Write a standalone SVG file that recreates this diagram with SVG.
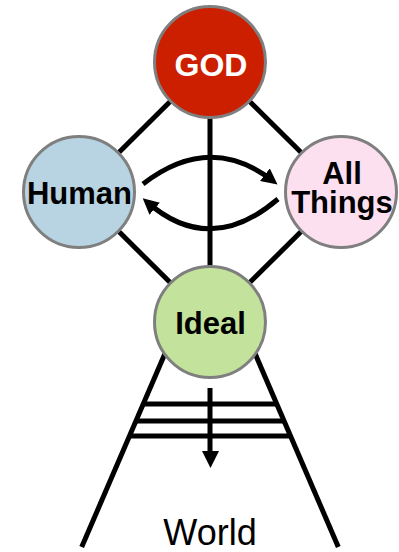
<svg xmlns="http://www.w3.org/2000/svg" width="399" height="552" viewBox="0 0 399 552">
<style>
.ln{stroke:#000;stroke-width:5;fill:none}
.nd{stroke:#7f7f7f;stroke-width:3}
.lb{font-family:"Liberation Sans",Arial,sans-serif;font-weight:bold;font-size:31px;text-anchor:middle;fill:#000}
</style>
<defs>
<marker id="ah" markerUnits="userSpaceOnUse" markerWidth="16" markerHeight="16" refX="9" refY="7" orient="auto" viewBox="0 0 14 14">
<path d="M0,0 L14,7 L0,14 z" fill="#000"/>
</marker>
</defs>
<g id="connectors">
<line class="ln" x1="210" y1="62" x2="79" y2="192"/>
<line class="ln" x1="210" y1="62" x2="341" y2="192"/>
<line class="ln" x1="79" y1="192" x2="210" y2="322"/>
<line class="ln" x1="341" y1="192" x2="210" y2="322"/>
<line class="ln" x1="210" y1="62" x2="210" y2="322"/>
<path class="ln" d="M143,184 Q210,132 273,181" marker-end="url(#ah)"/>
<path class="ln" d="M278,199 Q210,257 147,202" marker-end="url(#ah)"/>
<line class="ln" x1="170.8" y1="340" x2="81.7" y2="547"/>
<line class="ln" x1="249.2" y1="340" x2="338.3" y2="547"/>
<line class="ln" x1="143.2" y1="404" x2="276.8" y2="404"/>
<line class="ln" x1="135.9" y1="421" x2="284.1" y2="421"/>
<line class="ln" x1="129.4" y1="436" x2="290.6" y2="436"/>
<line class="ln" x1="210" y1="388" x2="210" y2="452"/>
<polygon points="202,451 219,451 210.5,468" fill="#000"/>
</g>
<g id="god">
<circle class="nd" cx="210" cy="62" r="55.5" fill="#cc1f00"/>
<text class="lb" x="211" y="76" style="font-size:32px;fill:#fff">GOD</text>
</g>
<g id="human">
<circle class="nd" cx="79" cy="192" r="55.5" fill="#b8d4e3"/>
<text class="lb" x="79.5" y="204">Human</text>
</g>
<g id="allthings">
<circle class="nd" cx="341" cy="192" r="55.5" fill="#fde0ef"/>
<text class="lb" x="342" y="184">All</text>
<text class="lb" x="342" y="213">Things</text>
</g>
<g id="ideal">
<circle class="nd" cx="210" cy="322" r="55.5" fill="#c3e29b"/>
<text class="lb" x="210.5" y="334">Ideal</text>
</g>
<g id="world">
<text x="210" y="545" style="font-family:'Liberation Sans',Arial,sans-serif;font-size:36px;text-anchor:middle;fill:#000">World</text>
</g>
</svg>
